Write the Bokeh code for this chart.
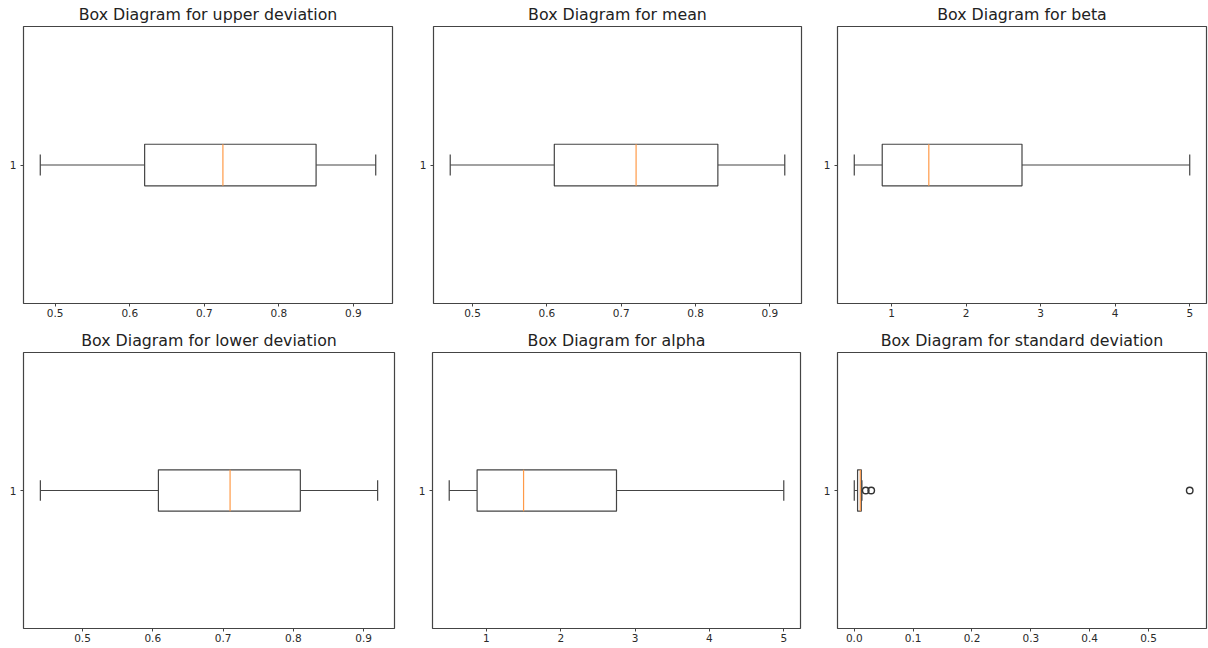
from bokeh.plotting import figure
from bokeh.layouts import column, row
from bokeh.models import FixedTicker, Range1d
from bokeh.embed import file_html
from bokeh.resources import INLINE

# ---- data ----
titles = ["Box Diagram for upper deviation", "Box Diagram for mean", "Box Diagram for beta",
          "Box Diagram for lower deviation", "Box Diagram for alpha", "Box Diagram for standard deviation"]
whisker_low = [0.48, 0.47, 0.5, 0.44, 0.5, 0.0]
q1 = [0.62, 0.61, 0.875, 0.608, 0.875, 0.0056]
median = [0.725, 0.72, 1.5, 0.71, 1.5, 0.0102]
q3 = [0.85, 0.83, 2.75, 0.81, 2.75, 0.0119]
whisker_high = [0.93, 0.92, 5.0, 0.92, 5.0, 0.013]
outliers = [[], [], [], [], [], [0.0195, 0.0288, 0.57]]

ticks_dev = [0.5, 0.6, 0.7, 0.8, 0.9]
labels_dev = ["0.5", "0.6", "0.7", "0.8", "0.9"]
ticks_ab = [1, 2, 3, 4, 5]
labels_ab = ["1", "2", "3", "4", "5"]
ticks_sd = [0.0, 0.1, 0.2, 0.3, 0.4, 0.5]
labels_sd = ["0.0", "0.1", "0.2", "0.3", "0.4", "0.5"]
x_ticks = [ticks_dev, ticks_dev, ticks_ab, ticks_dev, ticks_ab, ticks_sd]
x_labels = [labels_dev, labels_dev, labels_ab, labels_dev, labels_ab, labels_sd]
position = 1
y_tick_labels = ["1"]

# ---- layout (pixels) ----
fig_w = [410, 404, 394, 409, 405, 394]
border_r = [18, 13, 2, 15, 14, 2]
fig_h = [326, 326, 326, 322, 322, 322]
border_b = [23, 23, 23, 20, 20, 20]

FONT = "DejaVu Sans"
LINE = "#444444"
MED = "#ff9a48"
box_w = 0.15

plots = []
for i in range(6):
    vals = [whisker_low[i], whisker_high[i]] + outliers[i]
    lo, hi = min(vals), max(vals)
    m = (hi - lo) * 0.05
    p = figure(width=fig_w[i], height=fig_h[i], output_backend="svg", toolbar_location=None,
               x_range=Range1d(lo - m, hi + m), y_range=Range1d(position - 0.5, position + 0.5),
               min_border_left=23, min_border_right=border_r[i], min_border_top=26,
               min_border_bottom=border_b[i], title=titles[i])
    p.title.text_font = FONT
    p.title.text_font_size = "15.8px"
    p.title.text_font_style = "normal"
    p.title.text_color = "#222222"
    p.title.align = "center"
    p.title.standoff = 5
    p.outline_line_color = LINE
    p.outline_line_width = 1.2
    p.xgrid.visible = False
    p.ygrid.visible = False
    for ax in (p.xaxis[0], p.yaxis[0]):
        ax.axis_line_color = None
        ax.major_tick_out = 3
        ax.major_tick_in = 0
        ax.minor_tick_out = 0
        ax.minor_tick_in = 0
        ax.major_tick_line_color = LINE
        ax.major_label_text_font = FONT
        ax.major_label_text_font_size = "10.5px"
        ax.major_label_text_color = "#2a2a2a"
        ax.major_label_standoff = 2
    p.xaxis[0].ticker = FixedTicker(ticks=x_ticks[i])
    p.xaxis[0].major_label_overrides = {t: l for t, l in zip(x_ticks[i], x_labels[i])}
    p.yaxis[0].ticker = FixedTicker(ticks=[position])
    p.yaxis[0].major_label_overrides = {position: y_tick_labels[0]}
    p.yaxis[0].major_label_standoff = 4

    # whiskers
    p.segment(x0=[whisker_low[i], q3[i]], y0=[position, position],
              x1=[q1[i], whisker_high[i]], y1=[position, position], line_color=LINE, line_width=1.2)
    # caps
    p.segment(x0=[whisker_low[i], whisker_high[i]], y0=[position - box_w / 4] * 2,
              x1=[whisker_low[i], whisker_high[i]], y1=[position + box_w / 4] * 2,
              line_color=LINE, line_width=1.2)
    # box
    p.quad(left=[q1[i]], right=[q3[i]], bottom=[position - box_w / 2], top=[position + box_w / 2],
           fill_color="white", line_color=LINE, line_width=1.2)
    # median
    p.segment(x0=[median[i]], y0=[position - box_w / 2], x1=[median[i]], y1=[position + box_w / 2],
              line_color=MED, line_width=1.2)
    # outliers
    if outliers[i]:
        p.scatter(x=outliers[i], y=[position] * len(outliers[i]), marker="circle", size=6.5,
                  fill_color=None, line_color="#333333", line_width=1.4)
    plots.append(p)

layout = column(row(*plots[:3], spacing=0), row(*plots[3:], spacing=0), spacing=0)

open("out.html", "w").write(file_html(layout, INLINE))
